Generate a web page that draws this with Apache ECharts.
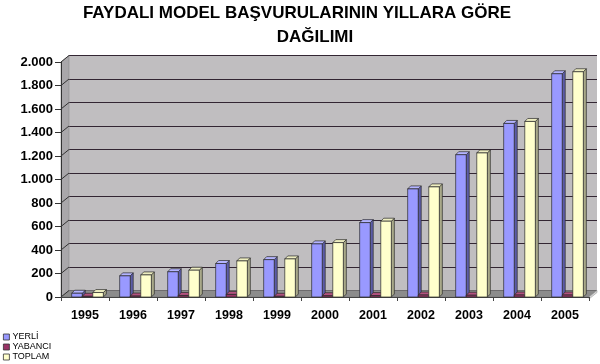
<!DOCTYPE html>
<html>
<head>
<meta charset="utf-8">
<script src="https://cdn.jsdelivr.net/npm/echarts@6/dist/echarts.min.js"></script>
<style>html,body{margin:0;padding:0;background:#fff}#c{width:600px;height:364px}</style>
</head>
<body>
<div id="c"></div>
<script>
const years = ['1995','1996','1997','1998','1999','2000','2001','2002','2003','2004','2005'];
const yerli = [32, 180, 215, 285, 318, 452, 633, 920, 1211, 1477, 1900];
const yabanci = [6, 8, 13, 22, 6, 11, 12, 17, 15, 17, 17];
const toplam = [38, 188, 228, 307, 324, 463, 645, 937, 1226, 1494, 1917];
const seriesNames = ['YERLİ', 'YABANCI', 'TOPLAM'];
const yMin = 0, yMax = 2000, yStep = 200;

const FONT = 'Liberation Sans, Arial, sans-serif';
const DEPTH_X = 8, DEPTH_Y = -6.5;   // wall depth
const BAR_DX = 3, BAR_DY = -3;       // bar depth
const FRONT_DX = 2.5;                 // bar position within depth

const palettes = [
  {front: '#9999FF', top: '#B4B4FF', side: '#5C5CA8'},
  {front: '#993366', top: '#B3527F', side: '#5E1E3E'},
  {front: '#FFFFCC', top: '#EDEDC0', side: '#A9A98A'}
];

function fmt(v) { return String(v).replace(/\B(?=(\d{3})+(?!\d))/g, '.'); }

function makeRender(k) {
  const pal = palettes[k];
  return function (params, api) {
    const i = api.value(0), v = api.value(1);
    const p0 = api.coord([i, 0]);
    const p1 = api.coord([i, v]);
    const cw = api.size([1, 0])[0];
    const bw = cw * 0.22;
    const cx = p0[0] + FRONT_DX + (k - 1) * bw;
    const xL = cx - bw / 2, xR = cx + bw / 2;
    const yB = p0[1], yT = Math.min(p1[1], p0[1] - 0.5);
    const st = {stroke: '#2a2a2a', lineWidth: 0.7};
    return {
      type: 'group',
      children: [
        {type: 'polygon', shape: {points: [[xR, yT], [xR + BAR_DX, yT + BAR_DY], [xR + BAR_DX, yB + BAR_DY], [xR, yB]]},
         style: Object.assign({fill: pal.side}, st)},
        {type: 'polygon', shape: {points: [[xL, yT], [xL + BAR_DX, yT + BAR_DY], [xR + BAR_DX, yT + BAR_DY], [xR, yT]]},
         style: Object.assign({fill: pal.top}, st)},
        {type: 'rect', shape: {x: xL, y: yT, width: bw, height: yB - yT},
         style: Object.assign({fill: pal.front}, st)}
      ]
    };
  };
}

const dataSets = [yerli, yabanci, toplam];

const chart = echarts.init(document.getElementById('c'), null, {renderer: 'canvas'});
const titleStyle = {fontFamily: FONT, fontSize: 17, fontWeight: 'bold', color: '#000'};
const option = {
  animation: false,
  backgroundColor: '#fff',
  title: [
    {text: 'FAYDALI MODEL BAŞVURULARININ YILLARA GÖRE', left: 292, top: 0, textAlign: 'center', textStyle: titleStyle},
    {text: 'DAĞILIMI', left: 310, top: 24, textAlign: 'center', textStyle: titleStyle}
  ],
  legend: {
    orient: 'vertical', left: 3, top: 332, itemWidth: 6, itemHeight: 6, itemGap: 0, padding: 0,
    height: 40,
    icon: 'rect',
    itemStyle: {borderColor: '#333', borderWidth: 0.8},
    textStyle: {fontFamily: FONT, fontSize: 9, lineHeight: 10, color: '#000', padding: [0, 0, 0, -2]},
    data: seriesNames
  },
  grid: [
    {left: 61, right: 11, top: 62, bottom: 67, show: false},
    {left: 61 + DEPTH_X, right: 11 - DEPTH_X, top: 62 + DEPTH_Y, bottom: 67 - DEPTH_Y, show: true,
     backgroundColor: '#C0BEC0', borderWidth: 0}
  ],
  xAxis: [
    {type: 'category', gridIndex: 0, data: years, boundaryGap: true,
     axisLine: {show: true, lineStyle: {color: '#444', width: 1}},
     axisTick: {show: true, length: 4, lineStyle: {color: '#444'}},
     axisLabel: {fontFamily: FONT, fontSize: 12.5, fontWeight: 'bold', color: '#000', margin: 12},
     z: 4},
    {type: 'category', gridIndex: 1, data: years, show: false}
  ],
  yAxis: [
    {type: 'value', gridIndex: 0, min: yMin, max: yMax, interval: yStep,
     axisLine: {show: true, lineStyle: {color: '#333', width: 1}},
     axisTick: {show: true, length: 6, lineStyle: {color: '#333'}},
     splitLine: {show: false},
     axisLabel: {fontFamily: FONT, fontSize: 13, fontWeight: 'bold', color: '#000', margin: 8,
                 formatter: fmt},
     z: 4},
    {type: 'value', gridIndex: 1, min: yMin, max: yMax, interval: yStep,
     axisLine: {show: false}, axisTick: {show: false}, axisLabel: {show: false},
     splitLine: {show: true, lineStyle: {color: '#332633', width: 1}}}
  ],
  series: seriesNames.map((name, k) => ({
    name: name,
    type: 'custom',
    xAxisIndex: 0, yAxisIndex: 0,
    z: 5,
    itemStyle: {color: palettes[k].front, borderColor: '#333', borderWidth: 0.8},
    renderItem: makeRender(k),
    data: dataSets[k].map((v, i) => [i, v])
  }))
};
chart.setOption(option);

// walls and floor (layout, derived from the axes)
const xAxisModel = chart.getModel().getComponent('xAxis', 0);
const band = xAxisModel.axis.getBandWidth();
const x0 = chart.convertToPixel({xAxisIndex: 0}, 0) - band / 2;
const x1 = x0 + band * years.length;
const yTop = chart.convertToPixel({yAxisIndex: 0}, yMax);
const yBot = chart.convertToPixel({yAxisIndex: 0}, yMin);
const g = [];
g.push({type: 'polygon', z: 1, shape: {points: [[x0, yTop], [x0 + DEPTH_X, yTop + DEPTH_Y], [x0 + DEPTH_X, yBot + DEPTH_Y], [x0, yBot]]},
        style: {fill: '#A9A7AA', stroke: '#8a8a8a', lineWidth: 0.6}});
for (let v = yMin; v <= yMax; v += yStep) {
  const y = chart.convertToPixel({yAxisIndex: 0}, v);
  g.push({type: 'line', z: 2, shape: {x1: x0, y1: y, x2: x0 + DEPTH_X, y2: y + DEPTH_Y}, style: {stroke: '#333', lineWidth: 1}});
}
g.push({type: 'polygon', z: 1, shape: {points: [[x0, yBot], [x0 + DEPTH_X, yBot + DEPTH_Y], [x1 + DEPTH_X, yBot + DEPTH_Y], [x1, yBot]]},
        style: {fill: '#8C8C8C', stroke: '#777', lineWidth: 0.6}});
g.push({type: 'polygon', z: 1, shape: {points: [[x1, yBot], [x1 + DEPTH_X, yBot + DEPTH_Y], [x1 + DEPTH_X, yBot + DEPTH_Y + 2], [x1, yBot + 2]]},
        style: {fill: '#DADADA', stroke: '#999', lineWidth: 0.6}});
chart.setOption({graphic: g});
</script>
</body>
</html>
